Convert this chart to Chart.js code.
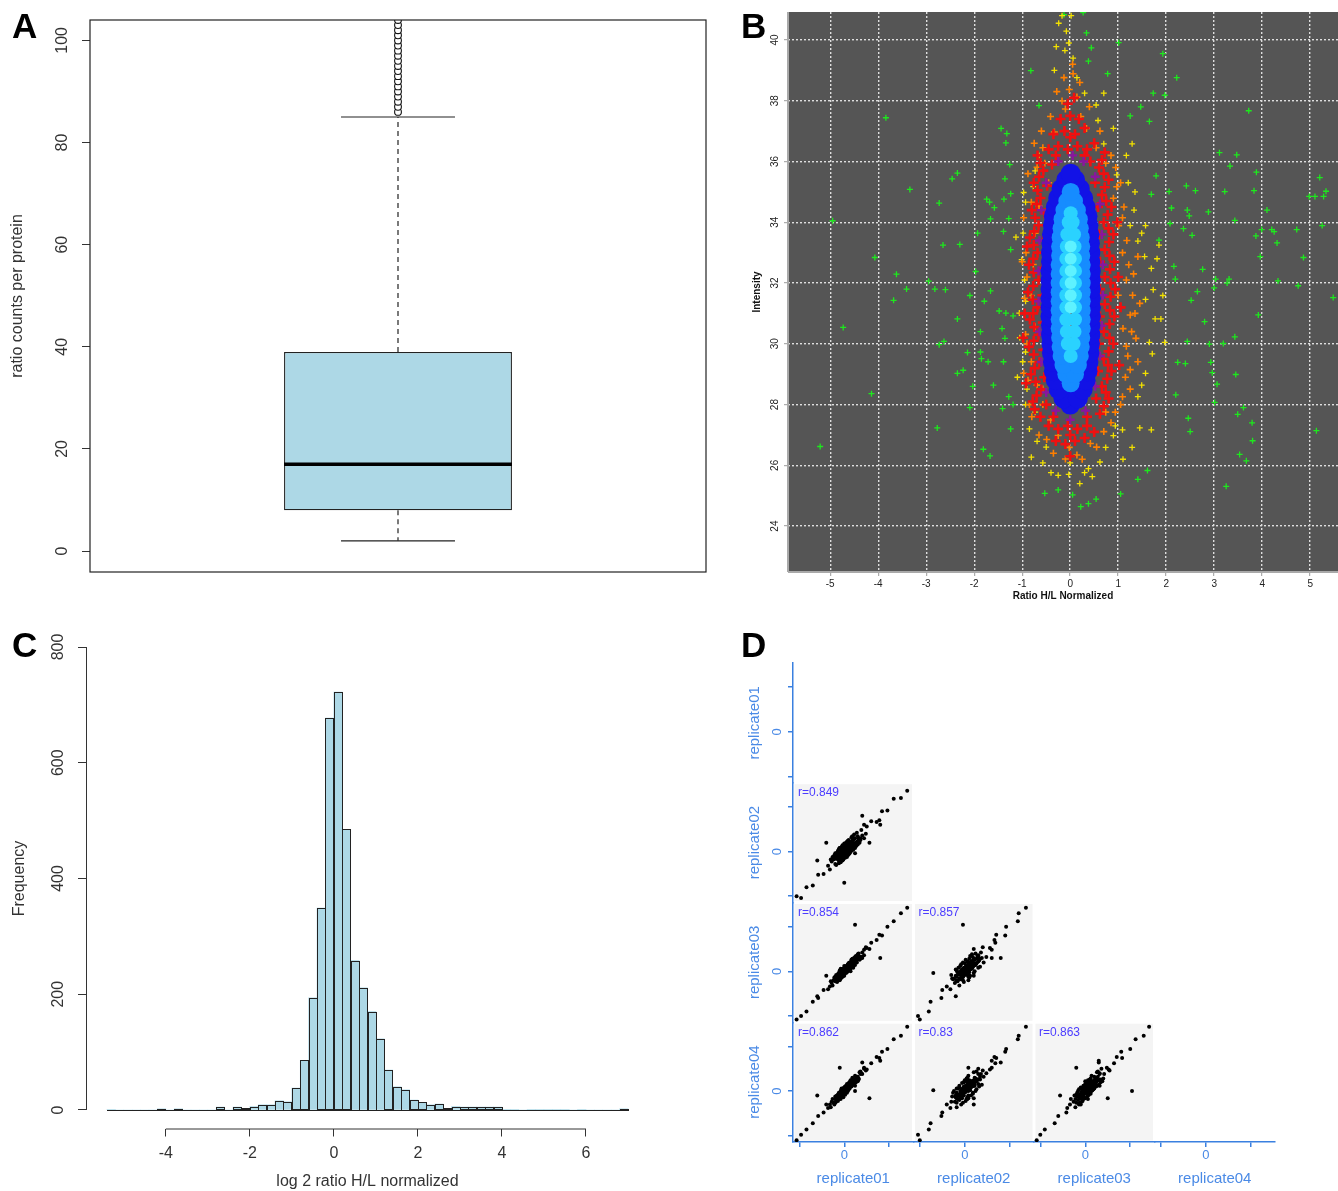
<!DOCTYPE html>
<html>
<head>
<meta charset="utf-8">
<script src="https://cdn.jsdelivr.net/npm/chart.js@4.4.0/dist/chart.umd.min.js"></script>
<style>
  body { margin: 0; background: #fff; }
  #page { position: relative; width: 1338px; height: 1191px; overflow: hidden; background: #fff; }
  .panel { position: absolute; }
  .tag { position: absolute; font: bold 35px 'Liberation Sans', Arial, sans-serif; line-height: 1; color: #000; }
</style>
</head>
<body>
<div id="page">
  <canvas id="chartA" class="panel" width="720" height="600" style="left:0;top:0"></canvas>
  <canvas id="chartB" class="panel" width="598" height="610" style="left:740px;top:0"></canvas>
  <canvas id="chartC" class="panel" width="700" height="581" style="left:0;top:610px"></canvas>
  <canvas id="chartD" class="panel" width="598" height="551" style="left:740px;top:640px"></canvas>
  <div class="tag" style="left:12px;top:8px">A</div>
  <div class="tag" style="left:741px;top:8px">B</div>
  <div class="tag" style="left:12px;top:627px">C</div>
  <div class="tag" style="left:741px;top:627px">D</div>
</div>
<script>
// ---- A: ratio counts per protein (boxplot)
const boxCategory = ['ratio counts per protein'];
const boxStats = [2, 8, 17, 39, 85]; // lower whisker, Q1, median, Q3, upper whisker
const boxOutliers = [86, 87, 88, 89, 90, 91, 92, 93, 94, 95, 96, 97, 98, 99, 100, 101, 102, 103, 104, 106, 109, 113, 120];
const boxTicks = [0, 20, 40, 60, 80, 100];

// ---- B: intensity vs normalized ratio, grouped by point density colour
const glowPts = [[0.01,31.2],[0.01,31.6],[0.01,32.0],[0.01,32.4],[0.01,32.8],[0.01,33.2]];
const cyanPts = [[0.01,29.6],[-0.05,30.0],[0.07,30.0],[-0.07,30.4],[0.09,30.4],[-0.08,30.8],[0.1,30.8],[-0.08,31.2],[0.1,31.2],[-0.08,31.6],
  [0.1,31.6],[-0.08,32.0],[0.1,32.0],[-0.08,32.4],[0.1,32.4],[-0.08,32.8],[0.1,32.8],[-0.07,33.2],[0.09,33.2],[-0.06,33.6],
  [0.08,33.6],[-0.03,34.0],[0.05,34.0],[0.01,34.3]];
const skyPts = [[0.01,28.7],[-0.08,29.0],[0.1,29.0],[-0.14,29.3],[0.16,29.3],[-0.18,29.6],[0.2,29.6],[-0.2,29.9],[0.22,29.9],[-0.21,30.2],
  [0.23,30.2],[-0.22,30.5],[0.24,30.5],[-0.22,30.8],[0.24,30.8],[-0.22,31.1],[0.24,31.1],[-0.22,31.4],[0.24,31.4],[-0.22,31.7],
  [0.24,31.7],[-0.22,32.0],[0.24,32.0],[-0.22,32.3],[0.24,32.3],[-0.22,32.6],[0.24,32.6],[-0.21,32.9],[0.23,32.9],[-0.21,33.2],
  [0.23,33.2],[-0.2,33.5],[0.22,33.5],[-0.18,33.8],[0.2,33.8],[-0.16,34.1],[0.18,34.1],[-0.12,34.4],[0.14,34.4],[-0.06,34.7],
  [0.08,34.7],[0.01,35.0]];
const bluePts = [[0.0,28.0],[-0.14,28.2],[0.16,28.2],[-0.24,28.5],[0.26,28.5],[-0.3,28.8],[0.32,28.8],[-0.34,29.1],[0.36,29.1],[-0.36,29.4],
  [0.38,29.4],[-0.38,29.7],[0.4,29.7],[-0.39,30.0],[0.41,30.0],[-0.4,30.3],[0.42,30.3],[-0.4,30.6],[0.42,30.6],[-0.41,30.9],
  [0.43,30.9],[-0.41,31.2],[0.43,31.2],[-0.41,31.5],[0.43,31.5],[-0.41,31.8],[0.43,31.8],[-0.41,32.1],[0.43,32.1],[-0.41,32.4],
  [0.43,32.4],[-0.4,32.7],[0.42,32.7],[-0.4,33.0],[0.42,33.0],[-0.39,33.3],[0.41,33.3],[-0.38,33.6],[0.4,33.6],[-0.36,33.9],
  [0.38,33.9],[-0.34,34.2],[0.36,34.2],[-0.3,34.5],[0.32,34.5],[-0.25,34.8],[0.27,34.8],[-0.18,35.1],[0.2,35.1],[-0.08,35.4],
  [0.1,35.4],[0.01,35.6]];
const purplePts = [[-0.5,28.4],[-0.6,29.4],[-0.64,30.4],[-0.66,31.4],[-0.66,32.4],[-0.64,33.4],[-0.6,34.4],[-0.5,35.3],[0.52,28.6],[0.62,29.6],
  [0.66,30.6],[0.68,31.6],[0.68,32.6],[0.66,33.6],[0.62,34.6],[0.52,35.5],[-0.3,27.8],[0.0,27.5],[0.32,27.8],[-0.25,36.0],[0.05,36.2],[0.28,36.0]];
const redPts = [[-0.62,27.6],[-0.78,28.1],[-0.6,28.5],[-0.82,29.0],[-0.64,29.4],[-0.86,29.9],[-0.66,30.3],[-0.84,30.8],[-0.68,31.2],[-0.88,31.7],
  [-0.66,32.1],[-0.86,32.6],[-0.68,33.0],[-0.84,33.5],[-0.66,33.9],[-0.8,34.4],[-0.62,34.8],[-0.76,35.3],[-0.56,35.7],[-0.68,36.2],
  [0.62,27.7],[0.8,28.2],[0.66,28.6],[0.86,29.1],[0.7,29.5],[0.9,30.0],[0.7,30.4],[0.92,30.9],[0.72,31.3],[0.94,31.8],
  [0.72,32.2],[0.92,32.7],[0.72,33.1],[0.9,33.6],[0.7,34.0],[0.86,34.5],[0.66,34.9],[0.8,35.4],[0.6,35.8],[0.72,36.3],
  [-0.45,36.4],[-0.25,36.5],[-0.05,36.4],[0.15,36.5],[0.35,36.4],[0.5,36.6],[-0.35,36.9],[-0.12,37.0],[0.1,36.9],[0.3,37.1],
  [-0.2,37.4],[0.0,37.5],[0.18,37.4],[-0.05,37.9],[0.08,38.1],[-0.45,27.3],[-0.25,27.2],[-0.05,27.3],[0.15,27.2],[0.35,27.3],
  [0.5,27.1],[-0.3,26.8],[-0.1,26.7],[0.1,26.8],[0.3,26.9],[0.0,26.3],[-0.95,31.0],[1.0,32.2],[-0.9,33.2],[1.02,29.3],
  [-0.92,28.7],[0.98,34.0],[1.05,31.2],[-0.98,30.2],
  [-0.74,27.85],[-0.7,28.3],[-0.72,28.75],[-0.74,29.2],[-0.76,29.65],[-0.76,30.1],[-0.75,30.55],[-0.77,31.0],[-0.78,31.45],[-0.77,31.9],
  [-0.76,32.35],[-0.77,32.8],[-0.76,33.25],[-0.75,33.7],[-0.73,34.15],[-0.7,34.6],[-0.68,35.05],[-0.65,35.5],[-0.62,35.95],
  [0.7,27.95],[0.74,28.4],[0.77,28.85],[0.79,29.3],[0.8,29.75],[0.82,30.2],[0.82,30.65],[0.83,31.1],[0.84,31.55],[0.84,32.0],
  [0.83,32.45],[0.82,32.9],[0.81,33.35],[0.8,33.8],[0.78,34.25],[0.75,34.7],[0.72,35.15],[0.7,35.6],[0.66,36.05],
  [-0.5,28.0],[-0.54,28.9],[-0.56,29.8],[-0.57,30.7],[-0.58,31.6],[-0.57,32.5],[-0.56,33.4],[-0.53,34.3],[-0.48,35.2],[-0.38,35.9],
  [0.54,28.2],[0.58,29.1],[0.6,30.0],[0.62,30.9],[0.62,31.8],[0.62,32.7],[0.6,33.6],[0.58,34.5],[0.52,35.3],[0.42,36.0],
  [-0.3,36.2],[0.3,36.2],[-0.35,27.6],[0.35,27.6],[0.0,36.8],[0.0,27.0]];
const orangePts = [[-0.13,38.76],[0.06,38.89],[-0.02,38.37],[0.14,38.12],[-0.17,37.99],[-0.41,37.48],[0.22,37.48],[-0.33,36.97],[0.34,37.09],[-0.57,36.45],
  [0.54,36.45],[-0.69,35.81],[0.74,35.94],[-0.81,34.66],[0.90,34.79],[-0.73,33.64],[1.01,33.89],[-0.77,32.61],[1.09,33.00],[-0.81,31.59],
  [1.17,32.10],[-0.73,30.56],[1.25,30.95],[-0.81,29.41],[1.17,29.92],[-0.69,28.64],[1.25,29.15],[-0.57,28.00],[1.09,28.26],[-0.41,27.49],
  [0.94,27.75],[-0.25,26.98],[0.70,27.11],[-0.02,26.59],[0.14,26.34],[-0.10,26.21],[0.42,26.72],[-0.49,26.85],[-0.97,29.03],[-0.93,30.31],
  [-0.97,34.15],[1.41,32.87],[1.45,31.33],[1.37,30.18],[1.41,29.41],[1.25,28.51],[1.09,34.15],[0.97,35.17],[-0.45,35.30],[-0.53,35.94],
  [-0.65,34.53],[-0.57,28.51],[0.74,27.75],[-0.10,37.73],[0.05,39.2],[1.0,31.6],[-0.9,32.2],[1.1,30.5],[-0.85,28.0],[0.95,35.8],
  [-0.88,35.6],[-0.92,33.0],[-0.95,31.5],[-0.9,30.0],[-0.88,28.8],[-0.8,27.6],[-0.65,27.0],[-0.35,26.4],[0.25,26.2],[0.55,26.6],
  [0.85,27.4],[1.05,28.0],[1.15,28.9],[1.2,29.6],[1.28,30.4],[1.3,31.6],[1.22,32.6],[1.18,33.4],[1.12,34.5],[1.05,35.3],
  [0.85,36.2],[0.62,37.0],[0.4,37.8],[-0.28,38.3],[0.2,38.6],[-0.6,37.0],[-0.75,36.6],[1.35,31.0],[1.32,32.3],[-1.0,32.7]];
const yellowPts = [[-0.08,40.29],[-0.03,39.90],[-0.11,39.65],[-0.24,40.55],[-0.17,40.80],[-0.29,39.78],[0.06,39.40],[0.02,40.80],[0.14,38.76],[-0.33,39.00],
  [0.30,38.25],[-0.97,34.98],[-0.93,34.66],[-1.01,32.77],[-0.95,32.10],[-0.93,31.40],[-1.06,31.01],[-0.93,29.73],[-0.99,29.41],[-0.90,28.51],
  [-0.93,28.00],[-0.73,27.75],[-0.69,26.79],[-0.81,26.27],[-0.57,26.08],[-0.40,25.76],[-0.25,25.67],[-0.03,25.70],[0.00,26.08],[0.30,25.76],
  [0.38,25.89],[0.46,25.63],[0.62,26.11],[0.74,26.59],[0.90,26.98],[0.94,27.30],[1.09,27.17],[1.45,27.23],[1.69,27.17],[1.29,26.59],
  [1.41,28.26],[1.49,28.64],[1.57,29.03],[1.71,29.67],[1.65,30.05],[1.77,30.82],[1.57,31.46],[1.73,31.78],[1.69,32.48],[1.55,32.87],
  [1.49,33.64],[1.57,33.89],[1.41,33.38],[1.25,33.89],[1.33,34.40],[1.21,35.30],[1.17,36.20],[1.29,36.58],[0.97,35.56],[0.70,36.58],
  [0.90,37.09],[0.58,37.35],[0.70,38.25],[0.54,37.86],[-0.65,36.20],[-0.73,35.69],[-0.77,35.17],[-0.98,33.64],[-1.13,33.51],[1.93,31.59],
  [1.89,30.82],[1.97,30.05],[1.81,32.80],[1.85,33.25],[-1.05,30.2],[-1.1,28.9],[-0.85,27.2],[1.1,26.2],[0.2,25.4],[-0.5,26.6],[1.35,35.0]];
const greenPts = [[-5.21,26.62],[-4.95,34.05],[-4.73,30.54],[-4.14,28.36],[-4.07,32.84],[-3.84,37.44],[-3.62,32.29],[-3.68,31.43],[-3.41,31.80],[-3.34,35.08],
  [-2.95,32.06],[-2.82,31.80],[-2.77,27.23],[-2.73,29.97],[-2.63,30.08],[-2.73,34.63],[-2.65,33.25],[-2.60,31.78],[-2.46,35.43],[-2.35,35.62],
  [-2.35,30.82],[-2.35,29.03],[-2.30,33.27],[-2.23,29.13],[-2.14,29.71],[-2.09,31.59],[-2.09,27.90],[-2.03,28.60],[-1.97,32.38],[-1.93,33.64],
  [-1.87,30.40],[-1.87,29.73],[-1.85,29.51],[-1.81,26.53],[-1.79,31.40],[-1.74,34.76],[-1.71,29.41],[-1.68,34.66],[-1.67,26.31],[-1.66,34.11],
  [-1.66,31.74],[-1.60,28.64],[-1.58,34.48],[-1.48,31.08],[-1.44,37.09],[-1.42,30.50],[-1.41,27.87],[-1.39,33.70],[-1.39,29.41],[-1.36,30.18],
  [-1.38,34.76],[-1.36,35.43],[-1.34,36.61],[-1.34,31.01],[-1.32,36.92],[-1.28,34.12],[-1.28,28.26],[-1.24,27.20],[-1.26,35.90],[-1.24,34.94],
  [-1.24,33.10],[-1.19,30.92],[-1.19,28.00],
  [5.10,34.85],[5.20,35.47],[5.25,33.89],[5.28,34.85],[5.33,35.02],[5.48,31.52],[5.13,27.14],[4.75,31.91],[4.86,32.84],[4.72,33.76],
  [4.98,34.85],[4.10,34.40],[4.25,33.69],[4.31,33.32],[4.33,32.07],[4.20,33.76],[3.87,33.55],[3.88,35.65],[3.83,35.04],[3.92,30.95],
  [3.96,32.87],[3.99,33.76],[3.72,37.67],[3.79,27.40],[3.80,26.81],[3.67,26.15],[3.61,27.90],[3.53,26.36],[3.47,36.22],[3.45,28.99],
  [3.49,27.68],[3.43,30.23],[3.43,34.06],[3.33,35.85],[3.31,32.13],[3.27,32.00],[3.25,25.31],[3.22,35.01],[3.19,30.01],[3.11,36.29],
  [3.06,28.67],[3.01,28.07],[3.03,32.13],[3.00,31.84],[2.96,29.05],[2.93,29.39],[2.90,29.99],[2.88,34.34],[2.80,30.73],[2.76,32.45],
  [2.65,31.72],[2.61,35.04],[2.52,31.43],[2.54,33.57],[2.42,35.20],[2.44,34.40],[2.48,34.21],[2.46,27.55],[2.50,27.11],[2.40,29.35],
  [2.44,30.08],[2.36,33.79],[2.24,29.39],[2.22,38.76],[2.20,28.32],[2.19,32.13],[2.16,32.55],[2.11,34.47],[2.08,33.96],[2.06,35.01],
  [1.93,39.55],[1.97,38.18],[1.79,35.53],[1.85,33.41],[1.73,38.25],[1.69,34.92],[1.65,37.32],[1.61,25.83],[1.47,37.80],[1.41,25.54],
  [1.25,37.50],[1.01,39.91],[1.05,25.06],[0.78,38.89],[0.54,24.89],[0.38,24.74],[0.22,24.64],[0.05,25.03],[-0.25,25.19],[-0.53,25.08],
  [-0.65,37.84],[-0.82,38.99],[0.34,40.23],[0.44,39.74],[0.38,39.30],[0.27,40.9],[-0.13,40.83]];
const ratioTicks = [-5, -4, -3, -2, -1, 0, 1, 2, 3, 4, 5];
const intensityTicks = [24, 26, 28, 30, 32, 34, 36, 38, 40];

// ---- C: histogram of log2 ratio (bin width 0.2)
const binMids = [-5.3,-5.1,-4.9,-4.7,-4.5,-4.3,-4.1,-3.9,-3.7,-3.5,
  -3.3,-3.1,-2.9,-2.7,-2.5,-2.3,-2.1,-1.9,-1.7,-1.5,
  -1.3,-1.1,-0.9,-0.7,-0.5,-0.3,-0.1,0.1,0.3,0.5,
  0.7,0.9,1.1,1.3,1.5,1.7,1.9,2.1,2.3,2.5,
  2.7,2.9,3.1,3.3,3.5,3.7,3.9,4.1,4.3,4.5,
  4.7,4.9,5.1,5.3,5.5,5.7,5.9,6.1,6.3,6.5,
  6.7,6.9];
const binCounts = [1,0,0,0,0,0,2,0,2,0,
  0,0,0,5,0,5,3,6,9,9,
  16,14,38,86,194,349,677,722,485,258,
  211,170,123,69,40,35,17,13,9,10,
  3,6,5,5,5,5,5,1,1,0,
  1,1,1,1,1,0,1,0,0,0,
  0,2];
const histXTicks = [-4, -2, 0, 2, 4, 6];
const histYTicks = [0, 200, 400, 600, 800];

// ---- D: replicate correlation (lower triangle of pairs plot)
const repNames = ['replicate01', 'replicate02', 'replicate03', 'replicate04'];
const rep01 = [0.1,-0.3,0.5,0.0,0.8,-0.6,0.3,-0.1,1.1,0.2,
  -0.8,0.6,0.4,-0.2,0.9,0.0,-0.4,1.4,0.7,-0.5,
  0.2,-1.0,0.5,0.1,1.6,-0.7,0.3,0.8,-0.2,0.6,
  -0.9,1.2,0.0,0.4,-0.3,1.0,-0.6,0.2,0.7,-0.1,
  1.3,0.5,-1.2,0.9,0.1,-0.4,0.3,0.6,-0.1,1.8,
  0.0,-0.5,0.4,1.0,-0.8,0.2,0.8,-0.3,0.5,1.5,
  -0.2,0.1,0.7,-0.6,0.3,2.0,-1.4,0.9,0.0,0.4,
  2.5,3.0,3.6,4.2,4.8,5.5,6.3,7.0,2.2,3.9,
  -1.8,-2.3,-2.9,-3.5,-4.2,-5.3,-4.8,-1.6,0.0,-3.0,
  2.0,1.2,-0.5,4.0,-2.0,2.8,
  0.5,-0.6,1.0,-0.2,0.8,-1.0,0.3,1.5,-0.4,0.0,
  1.2,-0.7,0.6,-0.1,0.9,-1.3,0.2,1.7,-0.5,0.4,
  1.1,-0.9,0.7,-0.3,1.4,0.1,-0.8,0.5,2.2,-0.2,
  0.8,-1.1,0.3,1.3,-0.6,0.0,1.9,-0.4,0.6,1.0,
  -1.5,0.2,0.9,-0.3,0.4,1.6,-0.7,0.1,0.7,-0.2,
  1.2,-1.0,0.5,0.0,1.8,-0.5,0.3,0.9,-0.1,2.4];
const rep02 = [0.2,-0.1,0.4,-0.2,0.6,-0.4,0.6,0.1,0.9,-0.1,
  -0.5,0.9,0.1,-0.5,1.2,0.3,-0.7,1.1,0.4,-0.2,
  0.5,-0.8,0.7,-0.3,1.4,-0.9,0.0,1.0,0.2,0.3,
  -0.6,1.5,-0.4,0.8,0.0,0.7,-1.0,0.4,0.5,-0.3,
  1.0,0.2,-0.9,0.6,0.4,-0.2,0.1,1.1,0.0,1.5,
  0.1,-0.6,0.3,1.3,-0.3,-0.2,0.5,-0.4,0.5,1.7,
  -0.1,0.3,0.8,-0.3,0.6,1.8,-1.1,0.8,0.5,-0.1,
  2.8,3.4,3.3,4.5,4.6,5.9,6.0,6.8,3.0,3.5,
  -1.6,-2.5,-2.6,-3.8,-4.0,-5.0,-5.2,-2.0,-3.5,-1.0,
  4.0,-0.2,0.4,3.0,1.0,1.0,
  -0.3,0.3,0.2,0.7,1.6,-0.2,-0.6,0.8,-1.2,0.9,
  0.4,0.1,-0.2,-0.9,1.7,-0.6,1.0,1.0,0.4,-0.4,
  1.9,-1.5,0.0,0.5,2.1,-0.7,-0.1,1.3,1.5,-1.0,
  0.1,-0.4,1.1,0.6,-1.3,0.6,2.4,0.2,-0.1,1.5,
  -0.9,-0.5,0.3,-0.8,1.2,1.2,-0.2,0.8,0.2,0.4,
  0.9,-1.4,0.0,-0.6,1.3,-0.9,0.9,0.5,0.3,2.0];
const rep03 = [0.0,-0.4,0.6,0.1,0.7,-0.5,0.2,-0.2,1.2,0.3,
  -0.9,0.5,0.5,-0.1,0.8,-0.1,-0.3,1.3,0.8,-0.6,
  0.1,-1.1,0.4,0.2,1.7,-0.6,0.4,0.9,-0.3,0.5,
  -0.8,1.1,0.1,0.3,-0.4,1.1,-0.5,0.3,0.6,0.0,
  1.4,0.6,-1.0,1.0,0.0,-0.5,0.2,0.7,-0.2,1.6,
  0.2,-0.3,0.5,0.9,-0.7,0.1,0.9,-0.2,0.3,1.4,
  -0.3,0.4,0.6,-0.4,0.5,2.1,-1.3,1.0,-0.1,0.3,
  2.6,3.2,3.5,4.0,5.0,5.6,6.5,7.1,2.4,4.1,
  -2.0,-2.1,-3.0,-3.4,-4.5,-5.4,-5.0,-1.7,-0.2,-2.8,
  1.5,5.2,-1.0,1.5,-0.5,2.5,
  0.2,-0.2,0.6,0.3,1.2,-0.6,-0.1,1.9,-0.8,0.6,
  0.7,-0.3,1.0,-0.5,0.5,-1.6,-0.2,1.3,0.0,0.8,
  1.5,-0.4,0.3,-0.7,1.0,0.4,-1.2,0.9,1.8,0.2,
  1.3,-0.7,0.0,1.7,-0.9,-0.5,1.6,0.3,0.4,0.4,
  -1.1,0.6,1.1,-0.1,0.7,2.0,-1.0,0.4,0.0,-0.6,
  1.6,-0.8,0.9,-0.3,1.4,0.1,0.5,1.4,-0.4,2.7];
const rep04 = [0.1,-0.2,0.3,0.2,0.9,-0.7,0.4,0.0,1.0,0.0,
  -0.6,0.7,0.2,-0.3,1.1,0.1,-0.5,1.5,0.6,-0.4,
  0.3,-0.9,0.6,-0.1,1.3,-0.8,0.2,0.7,0.1,0.8,
  -1.0,1.3,-0.2,0.5,-0.1,0.9,-0.7,0.0,0.9,-0.2,
  1.2,0.4,-1.3,0.8,0.3,-0.3,0.5,0.6,0.2,1.9,
  -0.1,-0.4,0.4,1.1,-0.5,0.3,0.6,-0.6,0.7,1.6,
  0.0,0.2,0.5,-0.8,0.1,1.9,-1.2,1.1,0.2,0.5,
  2.4,3.1,3.8,4.4,4.7,5.8,6.2,7.2,2.6,3.7,
  -1.9,-2.4,-2.8,-3.6,-4.3,-5.5,-4.9,-1.5,0.1,-0.5,
  3.2,0.0,2.6,3.4,-1.5,-0.8,
  0.9,-0.9,1.4,-0.5,0.5,-1.3,0.6,1.1,0.0,-0.3,
  1.7,-1.1,0.3,0.3,1.3,-0.9,0.6,2.1,-0.8,0.1,
  0.7,-1.2,1.2,0.2,1.6,-0.4,-0.5,0.2,2.5,-0.6,
  0.6,-1.5,0.8,1.0,-0.2,0.4,2.0,-0.9,1.0,0.8,
  -1.8,0.0,1.5,0.3,0.0,1.4,-0.4,0.5,1.1,-0.5,
  0.6,-0.6,0.4,0.4,2.2,-0.2,-0.2,1.2,-0.7,2.3];
const pairCells = [[1, 0], [2, 0], [2, 1], [3, 0], [3, 1], [3, 2]]; // [row, column]
const pairR = ['0.849', '0.854', '0.857', '0.862', '0.83', '0.863'];
const pairTicks = [-5, 0, 5];

const FONT = "'Liberation Sans', Arial, Helvetica, sans-serif";
Chart.defaults.font.family = FONT;

function fixedTicks(values) {
    return scale => { scale.ticks = values.map(v => ({ value: v })); };
}
function line(ctx, x1, y1, x2, y2) {
    ctx.beginPath();
    ctx.moveTo(x1, y1);
    ctx.lineTo(x2, y2);
    ctx.stroke();
}
const baseOptions = {
    responsive: false,
    animation: false,
    devicePixelRatio: 1,
    events: [],
    plugins: { legend: { display: false }, tooltip: { enabled: false } }
};

// ---------- A ----------
const boxPlugin = {
    id: 'boxPlot',
    afterDatasetsDraw(chart) {
        const ctx = chart.ctx;
        const y = v => chart.scales.y.getPixelForValue(v);
        const bar = chart.getDatasetMeta(0).data[0];
        const cx = bar.x, half = bar.width / 2;
        const [lo, q1, med, q3, hi] = boxStats;
        ctx.save();
        ctx.strokeStyle = '#222';
        ctx.lineWidth = 1.2;
        ctx.setLineDash([5, 4]);
        line(ctx, cx, y(q3), cx, y(hi));
        line(ctx, cx, y(q1), cx, y(lo));
        ctx.setLineDash([]);
        line(ctx, cx - half / 2, y(hi), cx + half / 2, y(hi));
        line(ctx, cx - half / 2, y(lo), cx + half / 2, y(lo));
        ctx.strokeStyle = '#000';
        ctx.lineWidth = 3.5;
        line(ctx, cx - half, y(med), cx + half, y(med));
        const a = chart.chartArea;
        ctx.lineWidth = 1.2;
        ctx.strokeStyle = '#222';
        ctx.strokeRect(a.left, a.top, a.right - a.left, a.bottom - a.top);
        ctx.restore();
    }
};

new Chart(document.getElementById('chartA'), {
    type: 'bar',
    data: {
        labels: boxCategory,
        datasets: [{
            type: 'bar',
            data: [[boxStats[1], boxStats[3]]],
            backgroundColor: '#add8e6',
            borderColor: '#222',
            borderWidth: 1.3,
            borderSkipped: false,
            barPercentage: 0.37,
            categoryPercentage: 1
        }, {
            type: 'line',
            data: boxOutliers.map(v => ({ x: boxCategory[0], y: v })),
            showLine: false,
            pointStyle: 'circle',
            pointRadius: 3.4,
            pointBackgroundColor: '#fff',
            pointBorderColor: '#111',
            pointBorderWidth: 1.1
        }]
    },
    options: {
        ...baseOptions,
        layout: { autoPadding: false, padding: { top: 20, right: 14, bottom: 28, left: 0 } },
        scales: {
            x: { display: false, offset: true },
            y: {
                min: -4.1, max: 104,
                afterBuildTicks: fixedTicks(boxTicks),
                afterFit: s => { s.width = 90; },
                ticks: { autoSkip: false, minRotation: 90, maxRotation: 90, crossAlign: 'center', padding: 6, color: '#333', font: { size: 16 } },
                grid: { drawOnChartArea: false, tickLength: 8, color: '#333' },
                border: { display: false },
                title: { display: true, text: 'ratio counts per protein', color: '#333', font: { size: 16 }, padding: { top: 8, bottom: 0 } }
            }
        }
    },
    plugins: [boxPlugin]
});

// ---------- B ----------
const darkPlotPlugin = {
    id: 'darkPlot',
    beforeDraw(chart) {
        const a = chart.chartArea, ctx = chart.ctx;
        ctx.save();
        ctx.fillStyle = '#555555';
        ctx.fillRect(a.left, a.top, a.right - a.left, a.bottom - a.top);
        ctx.restore();
    },
    afterDatasetsDraw(chart) {
        const a = chart.chartArea, ctx = chart.ctx;
        ctx.save();
        ctx.strokeStyle = '#a9a9a9';
        ctx.lineWidth = 2;
        line(ctx, a.left, a.top, a.left, a.bottom);
        line(ctx, a.left, a.bottom, a.right, a.bottom);
        ctx.restore();
    }
};
// first group is drawn on top
const densityGroups = [
    { pts: glowPts, color: '#5ef2ff', style: 'circle', r: 6 },
    { pts: cyanPts, color: '#2ad2ff', style: 'circle', r: 7 },
    { pts: skyPts, color: '#168cff', style: 'circle', r: 9 },
    { pts: bluePts, color: '#1212e6', style: 'circle', r: 10 },
    { pts: purplePts, color: '#8a169e', style: 'cross', r: 4.5, w: 2.4 },
    { pts: redPts, color: '#f01010', style: 'cross', r: 5, w: 2.6 },
    { pts: orangePts, color: '#ff7f00', style: 'cross', r: 3.5, w: 1.6 },
    { pts: yellowPts, color: '#f2e000', style: 'cross', r: 3, w: 1.3 },
    { pts: greenPts, color: '#1ee81e', style: 'cross', r: 3, w: 1.3 }
];
new Chart(document.getElementById('chartB'), {
    type: 'scatter',
    data: {
        datasets: densityGroups.map(g => ({
            data: g.pts.map(p => ({ x: p[0], y: p[1] })),
            pointStyle: g.style,
            pointRadius: g.r,
            pointBackgroundColor: g.color,
            pointBorderColor: g.color,
            pointBorderWidth: g.style === 'circle' ? 0 : g.w
        }))
    },
    options: {
        ...baseOptions,
        layout: { autoPadding: false, padding: { top: 12, right: 0, bottom: 0, left: 0 } },
        scales: {
            x: {
                type: 'linear', min: -5.88, max: 5.58,
                afterBuildTicks: fixedTicks(ratioTicks),
                afterFit: s => { s.height = 38; },
                ticks: { autoSkip: false, maxRotation: 0, padding: 2, color: '#222', font: { size: 10 } },
                grid: { color: '#dedede', lineWidth: 1.4, tickLength: 4, tickColor: '#9a9a9a', tickWidth: 1 },
                border: { display: false, dash: [2, 2] },
                title: { display: true, text: 'Ratio H/L Normalized', color: '#111', font: { size: 10, weight: 'bold' }, padding: { top: 0, bottom: 8 } }
            },
            y: {
                type: 'linear', min: 22.49, max: 40.92,
                afterBuildTicks: fixedTicks(intensityTicks),
                afterFit: s => { s.width = 48; },
                ticks: { autoSkip: false, minRotation: 90, maxRotation: 90, crossAlign: 'center', padding: 3, color: '#222', font: { size: 10 } },
                grid: { color: '#dedede', lineWidth: 1.4, tickLength: 4, tickColor: '#9a9a9a', tickWidth: 1 },
                border: { display: false, dash: [2, 2] },
                title: { display: true, text: 'Intensity', color: '#111', font: { size: 10, weight: 'bold' }, padding: { top: 11, bottom: 0 } }
            }
        }
    },
    plugins: [darkPlotPlugin]
});

// ---------- C ----------
const histPlugin = {
    id: 'histAxes',
    afterDatasetsDraw(chart) {
        const ctx = chart.ctx, xs = chart.scales.x, ys = chart.scales.y, a = chart.chartArea;
        const half = (binMids[1] - binMids[0]) / 2;
        ctx.save();
        ctx.strokeStyle = '#222';
        ctx.lineWidth = 1;
        // bar outlines share a single 1px edge like R's rect()
        chart.getDatasetMeta(0).data.forEach(bar => {
            if (bar.base - bar.y > 0.5) {
                ctx.strokeRect(Math.round(bar.x - bar.width / 2) + 0.5, Math.round(bar.y) + 0.5,
                    Math.round(bar.width), Math.round(bar.base - bar.y));
            }
        });
        const y0 = Math.round(ys.getPixelForValue(0)) + 0.5;
        line(ctx, xs.getPixelForValue(binMids[0] - half), y0, xs.getPixelForValue(binMids[binMids.length - 1] + half), y0);
        ctx.strokeStyle = '#333';
        line(ctx, a.left + 0.5, ys.getPixelForValue(histYTicks[0]), a.left + 0.5, ys.getPixelForValue(histYTicks[histYTicks.length - 1]));
        line(ctx, xs.getPixelForValue(histXTicks[0]), a.bottom + 0.5, xs.getPixelForValue(histXTicks[histXTicks.length - 1]), a.bottom + 0.5);
        ctx.restore();
    }
};
new Chart(document.getElementById('chartC'), {
    type: 'bar',
    data: {
        datasets: [{
            data: binMids.map((m, i) => ({ x: m, y: binCounts[i] })),
            backgroundColor: '#add8e6',
            borderWidth: 0,
            barPercentage: 1,
            categoryPercentage: 1
        }]
    },
    options: {
        ...baseOptions,
        layout: { autoPadding: false, padding: { top: 18.5, right: 51, bottom: 0, left: 0 } },
        scales: {
            x: {
                type: 'linear', min: -5.9, max: 7.5, offset: false,
                afterBuildTicks: fixedTicks(histXTicks),
                afterFit: s => { s.height = 62.5; },
                ticks: { autoSkip: false, maxRotation: 0, padding: 7, color: '#333', font: { size: 16 } },
                grid: { offset: false, drawOnChartArea: false, tickLength: 8, color: '#333' },
                border: { display: false },
                title: { display: true, text: 'log 2 ratio H/L normalized', color: '#333', font: { size: 16 }, padding: { top: 0, bottom: 0 } }
            },
            y: {
                min: -32, max: 832,
                afterBuildTicks: fixedTicks(histYTicks),
                afterFit: s => { s.width = 86; },
                ticks: { autoSkip: false, minRotation: 90, maxRotation: 90, crossAlign: 'center', padding: 6, color: '#333', font: { size: 16 } },
                grid: { drawOnChartArea: false, tickLength: 8, color: '#333' },
                border: { display: false },
                title: { display: true, text: 'Frequency', color: '#333', font: { size: 16 }, padding: { top: 10, bottom: 0 } }
            }
        }
    },
    plugins: [histPlugin]
});

// ---------- D ----------
const reps = [rep01, rep02, rep03, rep04];
const AXIS_BLUE = '#3a80e0';
const TEXT_BLUE = '#4a8ae6';
const pairPlugin = {
    id: 'pairCells',
    beforeDatasetsDraw(chart) {
        const ctx = chart.ctx;
        ctx.save();
        ctx.fillStyle = '#f4f4f4';
        pairCells.forEach(([row, col]) => {
            const xs = chart.scales['x' + (col + 1)], ys = chart.scales['y' + (row + 1)];
            ctx.fillRect(xs.left + 1.5, ys.top + 1.5, xs.right - xs.left - 3, ys.bottom - ys.top - 3);
        });
        ctx.restore();
    },
    afterDatasetsDraw(chart) {
        const ctx = chart.ctx;
        ctx.save();
        ctx.fillStyle = '#4b3cff';
        ctx.font = '12px ' + FONT;
        ctx.textBaseline = 'top';
        pairCells.forEach(([row, col], k) => {
            const xs = chart.scales['x' + (col + 1)], ys = chart.scales['y' + (row + 1)];
            ctx.fillText('r=' + pairR[k], xs.left + 5, ys.top + 4);
        });
        ctx.restore();
    }
};
const pairScales = {};
repNames.forEach((name, k) => {
    pairScales['x' + (k + 1)] = {
        type: 'linear', position: 'bottom', stack: 'cols', min: -5.7, max: 7.7,
        afterBuildTicks: fixedTicks(pairTicks),
        afterFit: s => { s.height = 49; },
        ticks: { autoSkip: false, maxRotation: 0, padding: 1, color: TEXT_BLUE, font: { size: 13 }, callback: v => (v === 0 ? '0' : '') },
        grid: { drawOnChartArea: false, tickLength: 5, color: AXIS_BLUE, lineWidth: 1.5 },
        border: { display: true, color: AXIS_BLUE, width: 1.5 },
        title: { display: true, text: name, color: TEXT_BLUE, font: { size: 15 }, padding: { top: 0, bottom: 3 } }
    };
});
for (let k = 3; k >= 0; k--) {
    pairScales['y' + (k + 1)] = {
        type: 'linear', position: 'left', stack: 'rows', min: -5.7, max: 7.7,
        afterBuildTicks: fixedTicks(pairTicks),
        afterFit: s => { s.width = 53; },
        ticks: { autoSkip: false, minRotation: 90, maxRotation: 90, crossAlign: 'center', padding: 7, color: TEXT_BLUE, font: { size: 13 }, callback: v => (v === 0 ? '0' : '') },
        grid: { drawOnChartArea: false, tickLength: 5, color: AXIS_BLUE, lineWidth: 1.5 },
        border: { display: true, color: AXIS_BLUE, width: 1.5 },
        title: { display: true, text: repNames[k], color: TEXT_BLUE, font: { size: 15 }, padding: { top: 6, bottom: 0 } }
    };
}
new Chart(document.getElementById('chartD'), {
    type: 'scatter',
    data: {
        datasets: pairCells.map(([row, col]) => ({
            xAxisID: 'x' + (col + 1),
            yAxisID: 'y' + (row + 1),
            data: reps[col].map((v, i) => ({ x: v, y: reps[row][i] })),
            pointStyle: 'circle',
            pointRadius: 2,
            pointBorderWidth: 0,
            pointBackgroundColor: '#000'
        }))
    },
    options: {
        ...baseOptions,
        layout: { autoPadding: false, padding: { top: 23, right: 63, bottom: 0, left: 0 } },
        scales: pairScales
    },
    plugins: [pairPlugin]
});
</script>
</body>
</html>
